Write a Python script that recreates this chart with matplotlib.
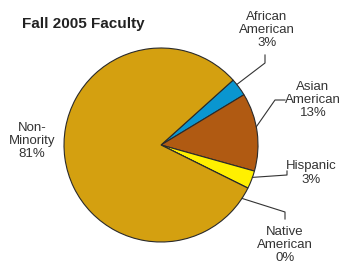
import numpy as np
import matplotlib.pyplot as plt

plt.rcParams['font.family'] = ['Liberation Sans', 'DejaVu Sans']

# data
groups = ["African\nAmerican", "Asian\nAmerican", "Hispanic", "Native\nAmerican", "Non-\nMinority"]
shares = [3, 13, 3, 0, 81]
colors = ["#0A96D0", "#B05A12", "#FFF000", "#D4A010", "#D4A010"]

# label placement, pixels from top-left
label_pos = [(267, 30), (313, 100), (311, 173), (285, 245), (32, 141)]
# leader: bend point and end point, None = no leader
bends = [(265, 63), (275, 100), (287, 175), (285, 212), None]
ends = [(265, 55), (285, 100), (287, 171), (285, 219), None]
anchor_shift = [2, 3, 1.5, -7, 0]

W, H = 344, 271
fig = plt.figure(figsize=(W / 100, H / 100), dpi=100)
ax = fig.add_axes([0, 0, 1, 1])

cx, cy, r = 161, H - 145, 97
wedges, _ = ax.pie(shares, colors=colors, startangle=42, counterclock=False,
                   center=(cx, cy), radius=r, frame=True,
                   wedgeprops=dict(edgecolor="#2a2a2a", linewidth=0.8))
ax.set_xlim(0, W)
ax.set_ylim(0, H)
ax.set_aspect("equal")
ax.axis("off")

txt = "#333333"
for w, lab, s, pos, b, e, sh in zip(wedges, groups, shares, label_pos, bends, ends, anchor_shift):
    ax.text(pos[0], H - pos[1], f"{lab}\n{s}%", ha="center", va="center",
            fontsize=9.5, color=txt, linespacing=1.15)
    if b is None:
        continue
    ang = np.deg2rad((w.theta1 + w.theta2) / 2 + sh)
    sx, sy = cx + r * np.cos(ang), cy + r * np.sin(ang)
    ax.plot([sx, b[0], e[0]], [sy, H - b[1], H - e[1]], color=txt, lw=0.8)

ax.text(22, H - 24, "Fall 2005 Faculty", ha="left", va="center",
        fontsize=11, fontweight="bold", color="#222222")

fig.savefig("out.png", dpi=100)
